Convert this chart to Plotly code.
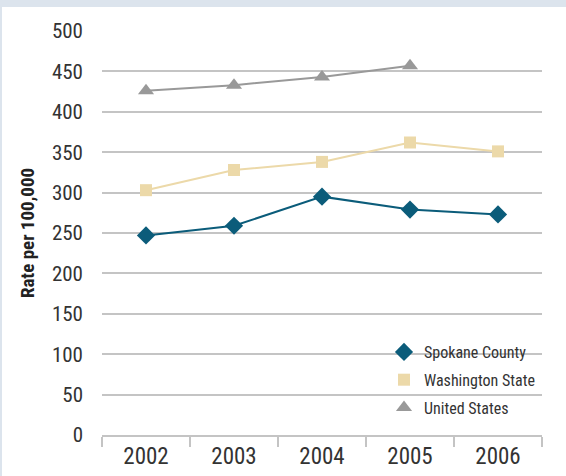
import plotly.graph_objects as go

years = ["2002", "2003", "2004", "2005", "2006"]
spokane = [247, 259, 295, 279, 273]
washington = [303, 328, 338, 362, 351]
united_states = [426, 433, 443, 457, None]

series = [
    ("Spokane County", spokane, "#0b5c7a", "diamond", 14),
    ("Washington State", washington, "#ecd9a9", "square", 12),
    ("United States", united_states, "#999999", "triangle-up", 14),
]

W, H = 566, 476
L, R, T, B = 102, 24, 31, 41
pw, ph = W - L - R, H - T - B

def px(x):
    return (x - L) / pw

def py(y):
    return (H - B - y) / ph

font = "Roboto Condensed, DejaVu Sans Condensed, sans-serif"

fig = go.Figure()
for name, vals, color, sym, size in series:
    fig.add_trace(go.Scatter(
        x=years, y=vals, mode="lines+markers", name=name, legendgroup=name,
        showlegend=False, line=dict(color=color, width=2),
        marker=dict(symbol=sym, size=size, color=color),
        connectgaps=False,
    ))
for name, vals, color, sym, size in series:
    fig.add_trace(go.Scatter(
        x=years, y=[None] * len(years), mode="markers", name=name, legendgroup=name,
        showlegend=True, marker=dict(symbol=sym, size=size, color=color),
    ))

fig.update_layout(
    width=W, height=H,
    margin=dict(l=L, r=R, t=T, b=B, pad=0, autoexpand=False),
    paper_bgcolor="white", plot_bgcolor="white",
    font=dict(family=font, color="#333333"),
    xaxis=dict(
        type="category", range=[-0.5, 4.5], showgrid=False, automargin=False,
        showline=True, linecolor="#c4c4c4", linewidth=1.5,
        ticks="outside", tickson="boundaries", ticklen=10, tickcolor="#c4c4c4", tickwidth=1.5,
        tickfont=dict(size=23, color="#333333"), fixedrange=True,
    ),
    yaxis=dict(
        range=[0, 500], dtick=50, showgrid=True, gridcolor="#c4c4c4", gridwidth=1.5,
        zeroline=False, showline=False, automargin=False,
        tickfont=dict(size=21, color="#333333"), ticklabelstandoff=18,
        title=dict(text="<b>Rate per 100,000</b>", font=dict(size=19, color="#222222"), standoff=12),
    ),
    legend=dict(
        x=px(384), y=py(335), xanchor="left", yanchor="top",
        bgcolor="rgba(0,0,0,0)", font=dict(size=16, color="#333333"),
        itemwidth=30, tracegroupgap=4,
    ),
    shapes=[
        dict(type="rect", xref="paper", yref="paper", x0=px(0), x1=px(W), y0=py(7), y1=py(0),
             fillcolor="#dce4ed", line=dict(width=0), layer="below"),
        dict(type="rect", xref="paper", yref="paper", x0=px(0), x1=px(2), y0=py(H), y1=py(0),
             fillcolor="#dce4ed", line=dict(width=0), layer="below"),
    ],
)

fig.write_html("out.html", config={"responsive": False, "displayModeBar": False},
               post_script="document.body.style.margin='0px';document.body.style.overflow='hidden';")
